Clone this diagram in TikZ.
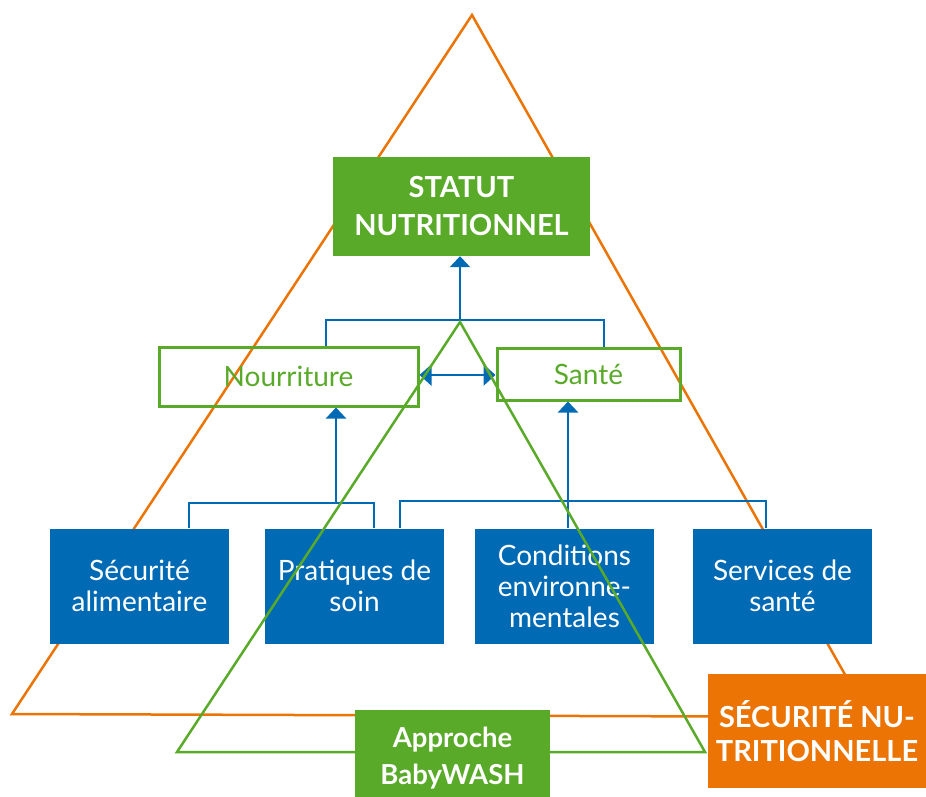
\documentclass[tikz,border=0pt]{standalone}
\usepackage{fontspec}
\setmainfont{Lato}
\usetikzlibrary{calc,positioning,arrows.meta}
\definecolor{bwgreen}{RGB}{90,170,42}
\definecolor{bwblue}{RGB}{0,106,180}
\definecolor{bworange}{RGB}{235,116,5}

\begin{document}
\begin{tikzpicture}[x=1pt,y=-1pt,
    factor/.style={fill=bwblue,text=white,minimum width=179pt,minimum height=115pt,
                   align=center,inner sep=0pt,font=\fontsize{28}{31}\selectfont},
    level/.style={draw=bwgreen,line width=3pt,text=bwgreen,inner sep=0pt,
                  font=\fontsize{28}{31}\selectfont},
    titlebox/.style={text=white,align=center,inner sep=0pt,
                     font=\bfseries\fontsize{29}{38}\selectfont},
    link/.style={draw=bwblue,line width=2.5pt},
    up/.style={link,-{Triangle[width=20pt,length=11pt]}}
    ]
    \useasboundingbox (0,0) rectangle (926,796);
    % big triangle
    \draw[bworange,line width=2.5pt,line join=miter] (472,15)--(12,714)--(869,717)--cycle;
    \node[titlebox,fill=bwgreen,minimum width=257pt,minimum height=99pt] (statut) at (461.5,206.5) {STATUT\\NUTRITIONNEL};
    \foreach \x/\n/\t in {139.5/secu/{Sécurité\\alimentaire},354.5/prat/{Pratiques de\\soin},
                          564.5/cond/{Conditions\\environne-\\mentales},782.5/serv/{Services de\\santé}}
    {
        \node[factor] (\n) at (\x,586) {\t};
    }
    % connectors
    \coordinate (hub) at (460,320);
    \coordinate (lj) at (336,503);
    \coordinate (rj) at (568,501);
    \node[level,minimum width=259pt,minimum height=59pt] (nour) at (288.5,376.5) {Nourriture};
    \node[level,minimum width=183pt,minimum height=52pt] (sante) at (588.5,374) {Santé};
    \draw[up] (hub) -- (hub |- statut.south);
    \draw[link] (nour.north) ++(37.5,0) |- (hub) -| ($(sante.north)+(15.5,0)$);
    \draw[link,{Triangle[width=21pt,length=12pt]}-{Triangle[width=21pt,length=12pt]}] (nour.east) ++(0,-1.5) -- ($(sante.west)+(0,1)$);
    \draw[link] ($(secu.north)+(49.5,0)$) |- (lj) -| ($(prat.north)+(19.5,0)$);
    \draw[up] (lj) -- (lj |- nour.south);
    \draw[link] ($(prat.north)+(45.5,0)$) |- (rj) -| ($(serv.north)+(-16.5,0)$);
    \draw[up] (cond.north -| rj) -- (rj |- sante.south);
    % small triangle
    \draw[bwgreen,line width=2.5pt] (460,322)--(177,752)--(705,752)--cycle;
    \node[titlebox,fill=bwgreen,font=\bfseries\fontsize{27.5}{37}\selectfont,minimum width=195pt,minimum height=96pt] (wash) at (452.5,758) {Approche\\BabyWASH};
    \node[titlebox,fill=bworange,font=\bfseries\fontsize{29}{34}\selectfont,minimum width=218pt,minimum height=114pt] (secnut) at (817,731) {SÉCURITÉ NU-\\TRITIONNELLE};
\end{tikzpicture}
\end{document}
